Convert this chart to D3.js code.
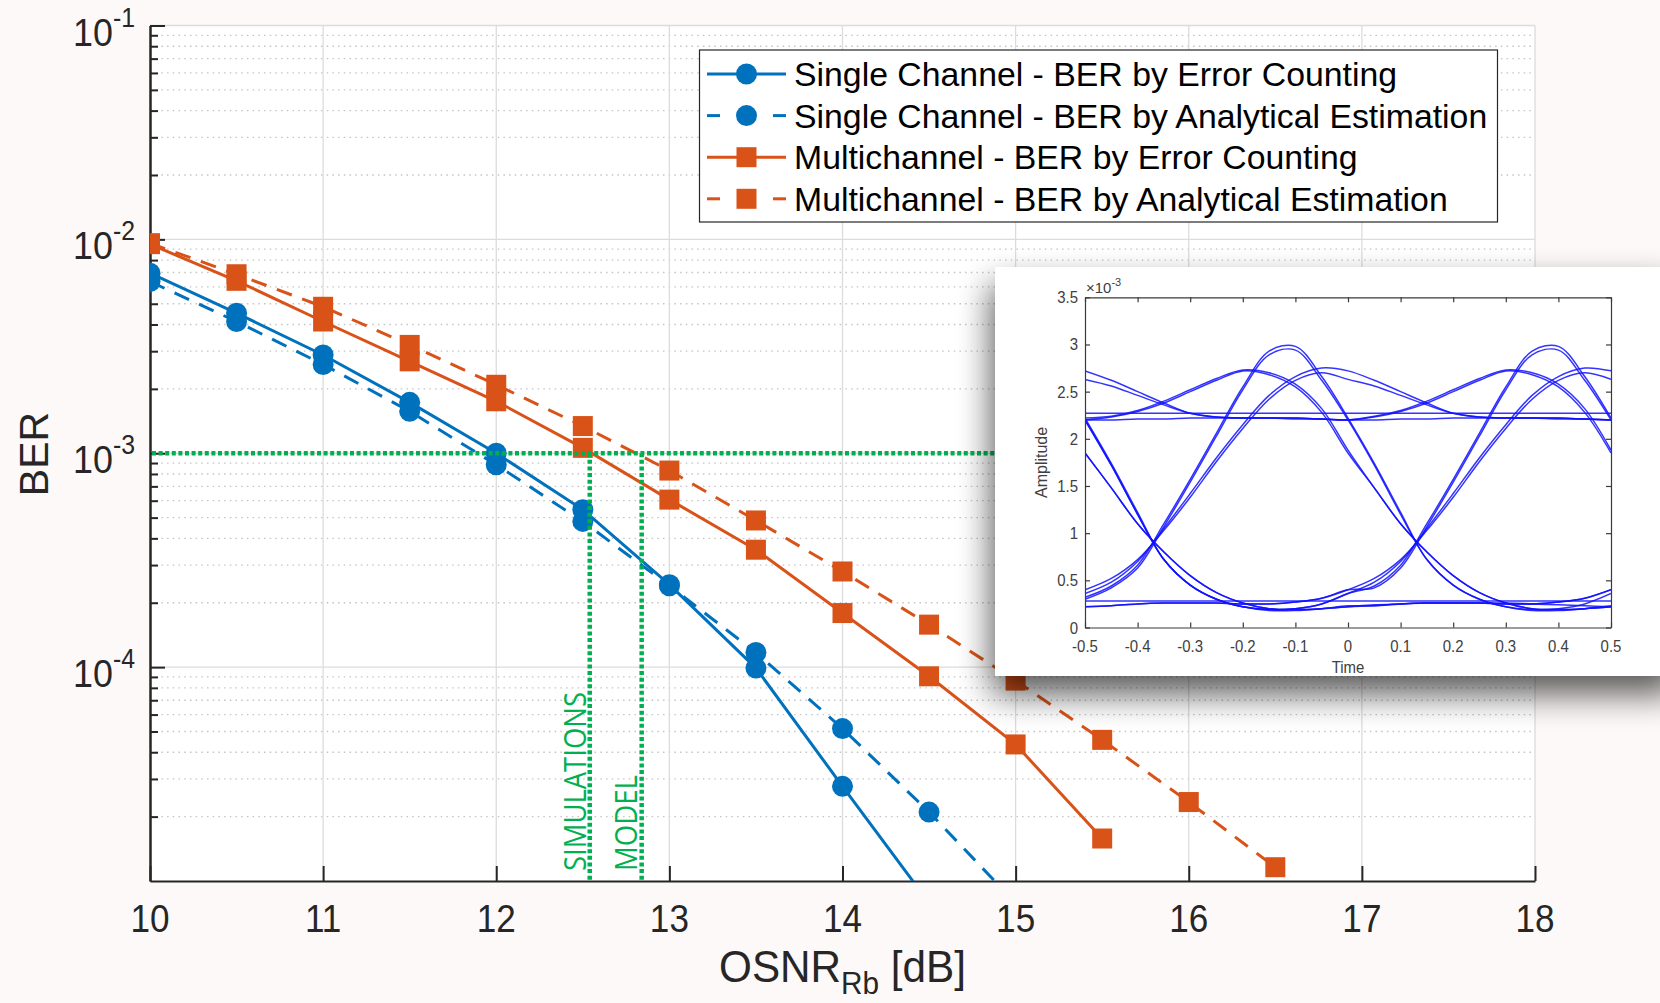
<!DOCTYPE html>
<html>
<head>
<meta charset="utf-8">
<script src="https://cdn.jsdelivr.net/npm/d3@7"></script>
<style>
body{margin:0;background:#fdf9f8;}
svg{display:block;}
text{font-family:"Liberation Sans",Arial,Helvetica,sans-serif;fill:#262626;}
</style>
</head>
<body>
<script>
// ---- main chart data ----
var osnr=[10,10.5,11,11.5,12,12.5,13,13.5,14,14.5,15,15.5,16,16.5];
var berSingleCount=[6.95e-3,4.52e-3,2.88e-3,1.73e-3,1.0e-3,5.45e-4,2.43e-4,9.9e-5,2.77e-5,7.9e-6];
var berSingleAnalytic=[6.35e-3,4.13e-3,2.60e-3,1.57e-3,8.83e-4,4.80e-4,2.40e-4,1.17e-4,5.16e-5,2.10e-5,7.9e-6];
var berMultiCount=[9.5e-3,6.4e-3,4.13e-3,2.69e-3,1.75e-3,1.06e-3,6.07e-4,3.54e-4,1.79e-4,9.06e-5,4.35e-5,1.58e-5];
var berMultiAnalytic=[9.6e-3,6.87e-3,4.84e-3,3.21e-3,2.09e-3,1.34e-3,8.3e-4,4.85e-4,2.80e-4,1.58e-4,8.65e-5,4.57e-5,2.34e-5,1.16e-5];
var legendNames=["Single Channel - BER by Error Counting","Single Channel - BER by Analytical Estimation","Multichannel - BER by Error Counting","Multichannel - BER by Analytical Estimation"];
var xTicks=[10,11,12,13,14,15,16,17,18];
var yDecades=[1e-4,1e-3,1e-2,1e-1];
var minorBase=[1e-5,1e-4,1e-3,1e-2];
var minorMult=[2,3,4,5,6,7,8,9];
var targetBER=1e-3;
var simOSNR=12.54, modelOSNR=12.84;

// ---- inset eye diagram data: half-window traces (t step 0.05) ----
var eyeTime=[-0.5,-0.45,-0.4,-0.35,-0.3,-0.25,-0.2,-0.15,-0.1,-0.05,0,0.05,0.1,0.15,0.2,0.25,0.3,0.35,0.4,0.45,0.5];
var segPeak=[0.32,0.44,0.66,1.1,1.57,2.06,2.55,2.93,2.98,2.66,2.22];
var segPeak2=[0.30,0.42,0.63,1.07,1.54,2.03,2.52,2.89,2.94,2.62,2.2];
var segRise=[0.36,0.48,0.7,1.05,1.42,1.8,2.15,2.46,2.66,2.75,2.72];
var segRise2=[0.40,0.52,0.72,1.03,1.38,1.76,2.11,2.42,2.62,2.70,2.63];
var segFall=[2.22,1.74,1.22,0.72,0.45,0.3,0.22,0.18,0.18,0.2,0.23];
var segFallUp=[2.2,1.72,1.2,0.72,0.45,0.3,0.22,0.19,0.2,0.25,0.36];
var segHumpFall=[1.85,1.48,1.1,0.8,0.55,0.37,0.26,0.2,0.19,0.2,0.22];
var segHump=[2.2,2.23,2.29,2.38,2.5,2.62,2.72,2.68,2.55,2.28,1.85];
var segHump2=[2.22,2.24,2.3,2.4,2.52,2.64,2.73,2.7,2.58,2.32,1.88];
var segTail=[2.72,2.62,2.5,2.38,2.27,2.23,2.22,2.22,2.22,2.21,2.2];
var segTail2=[2.63,2.56,2.46,2.36,2.27,2.23,2.22,2.22,2.22,2.21,2.2];
var segHigh=[2.27,2.27,2.27,2.27,2.27,2.27,2.27,2.27,2.27,2.27,2.27];
var segHigh2=[2.2,2.2,2.21,2.21,2.22,2.22,2.22,2.22,2.21,2.21,2.2];
var segLow=[0.28,0.28,0.28,0.28,0.28,0.28,0.28,0.28,0.28,0.28,0.28];
var segLow2=[0.23,0.24,0.25,0.26,0.26,0.26,0.26,0.25,0.24,0.23,0.22];
var segLowUp=[0.22,0.23,0.25,0.26,0.26,0.26,0.25,0.25,0.27,0.31,0.40];
var eyeTraces=[[segPeak,segFall],[segPeak2,segFallUp],[segRise,segTail],[segRise2,segTail2],
  [segTail,segHump],[segTail2,segHump2],[segHump,segHumpFall],[segHump2,segHumpFall],
  [segFall,segLowUp],[segFallUp,segPeak],[segFallUp,segRise],[segHumpFall,segLow2],
  [segHigh,segHigh],[segHigh2,segHigh2],[segLow,segLow],[segLowUp,segRise2],[segHumpFall,segLowUp],
  [segLowUp,segPeak2]];
var insetTimeTicks=[-0.5,-0.4,-0.3,-0.2,-0.1,0,0.1,0.2,0.3,0.4,0.5];
var insetAmpTicks=[0,0.5,1,1.5,2,2.5,3,3.5];

//////////////////////////////////////////////////////////
var W=1660,H=1003;
var plot={left:150,right:1535,top:25.5,bottom:881};
var blue="#0072bd",orange="#d95319",green="#00b050";

var svg=d3.select("body").append("svg").attr("width",W).attr("height",H);
var defs=svg.append("defs");
defs.append("clipPath").attr("id","plotClip").append("rect")
    .attr("x",plot.left).attr("y",plot.top)
    .attr("width",plot.right-plot.left).attr("height",plot.bottom-plot.top);
svg.append("rect").attr("width",W).attr("height",H).attr("fill","#fdf9f8");
svg.append("rect").attr("x",plot.left).attr("y",plot.top)
   .attr("width",plot.right-plot.left).attr("height",plot.bottom-plot.top).attr("fill","#fff");

var x=d3.scaleLinear().domain([10,18]).range([plot.left,plot.right]);
var y=d3.scaleLog().domain([1e-5,1e-1]).range([plot.bottom,plot.top]);

// grid
var minorVals=[];
minorBase.forEach(function(b){minorMult.forEach(function(k){minorVals.push(k*b);});});
svg.append("g").selectAll("line").data(minorVals).enter().append("line")
   .attr("x1",plot.left).attr("x2",plot.right)
   .attr("y1",function(d){return y(d);}).attr("y2",function(d){return y(d);})
   .attr("stroke","#c4c4c4").attr("stroke-width",1.3).attr("stroke-dasharray","1.5,4.2");
svg.append("g").selectAll("line").data(yDecades).enter().append("line")
   .attr("x1",plot.left).attr("x2",plot.right)
   .attr("y1",function(d){return y(d);}).attr("y2",function(d){return y(d);})
   .attr("stroke","#dcdcdc").attr("stroke-width",1.3);
svg.append("g").selectAll("line").data(xTicks.slice(1)).enter().append("line")
   .attr("y1",plot.top).attr("y2",plot.bottom)
   .attr("x1",function(d){return x(d);}).attr("x2",function(d){return x(d);})
   .attr("stroke","#dcdcdc").attr("stroke-width",1.3);

// axes
var xAxis=svg.append("g").attr("transform","translate(0,"+plot.bottom+")")
   .call(d3.axisBottom(x).tickValues(xTicks).tickSize(-15).tickSizeOuter(0).tickFormat(""));
var yMinorAxis=svg.append("g").attr("transform","translate("+plot.left+",0)")
   .call(d3.axisLeft(y).tickValues(minorVals).tickSize(-8).tickSizeOuter(0).tickFormat(""));
var yAxis=svg.append("g").attr("transform","translate("+plot.left+",0)")
   .call(d3.axisLeft(y).tickValues(yDecades).tickSize(-15).tickSizeOuter(0).tickFormat(""));
[xAxis,yMinorAxis,yAxis].forEach(function(a){
  a.selectAll("path,line").attr("stroke","#262626").attr("stroke-width",2);
});

svg.append("g").selectAll("text").data(xTicks).enter().append("text")
   .attr("transform",function(d){return "translate("+x(d)+",932) scale(0.9,1)";})
   .attr("text-anchor","middle").attr("font-size",39).text(function(d){return d;});
var yl=svg.append("g").selectAll("text").data(yDecades).enter().append("text")
   .attr("transform",function(d){return "translate(135,"+(y(d)+20)+") scale(0.92,1)";})
   .attr("text-anchor","end").attr("font-size",39);
yl.append("tspan").text("10");
yl.append("tspan").attr("dy",-19).attr("font-size",27)
  .text(function(d){return "-"+Math.abs(Math.round(Math.log10(d)));});

// axis titles
var xt=svg.append("text")
   .attr("transform","translate("+((plot.left+plot.right)/2)+",982) scale(0.96,1)")
   .attr("text-anchor","middle").attr("font-size",44);
xt.append("tspan").text("OSNR");
xt.append("tspan").attr("dy",12).attr("font-size",31).text("Rb");
xt.append("tspan").attr("dy",-12).text(" [dB]");
svg.append("text").attr("transform","translate(48,454) rotate(-90)")
   .attr("text-anchor","middle").attr("font-size",41).text("BER");

// series
var series=[
  {values:berSingleCount,color:blue,dash:null,marker:"circle"},
  {values:berSingleAnalytic,color:blue,dash:"16,11",marker:"circle"},
  {values:berMultiCount,color:orange,dash:null,marker:"square"},
  {values:berMultiAnalytic,color:orange,dash:"16,11",marker:"square"}
];
var line=d3.line().x(function(d){return x(d[0]);}).y(function(d){return y(d[1]);});
var plotG=svg.append("g").attr("clip-path","url(#plotClip)");
series.forEach(function(s){
  var pts=d3.zip(osnr.slice(0,s.values.length),s.values);
  plotG.append("path").datum(pts).attr("d",line).attr("fill","none")
     .attr("stroke",s.color).attr("stroke-width",3)
     .attr("stroke-dasharray",s.dash);
  if(s.marker=="circle"){
    plotG.append("g").selectAll("circle").data(pts).enter().append("circle")
       .attr("cx",function(d){return x(d[0]);}).attr("cy",function(d){return y(d[1]);})
       .attr("r",10.5).attr("fill",s.color);
  } else {
    plotG.append("g").selectAll("rect").data(pts).enter().append("rect")
       .attr("x",function(d){return x(d[0])-10;}).attr("y",function(d){return y(d[1])-10;})
       .attr("width",20).attr("height",20).attr("fill",s.color);
  }
});

// green threshold markers
svg.append("line").attr("x1",plot.left+2).attr("x2",1000)
   .attr("y1",y(targetBER)).attr("y2",y(targetBER))
   .attr("stroke",green).attr("stroke-width",4.5).attr("stroke-dasharray","4,2.6");
[simOSNR,modelOSNR].forEach(function(v){
  svg.append("line").attr("x1",x(v)).attr("x2",x(v))
     .attr("y1",y(targetBER)).attr("y2",plot.bottom)
     .attr("stroke",green).attr("stroke-width",4.5).attr("stroke-dasharray","4,2.6");
});
svg.append("text").attr("transform","translate("+(x(simOSNR)-4)+",871) rotate(-90)")
   .style("font-family","'Open Sans',sans-serif").style("fill",green)
   .attr("font-size",31).attr("textLength",179).attr("lengthAdjust","spacingAndGlyphs")
   .text("SIMULATIONS");
svg.append("text").attr("transform","translate("+(x(modelOSNR)-5)+",871) rotate(-90)")
   .style("font-family","'Open Sans',sans-serif").style("fill",green)
   .attr("font-size",31).attr("textLength",96).attr("lengthAdjust","spacingAndGlyphs")
   .text("MODEL");

// legend
var lg=svg.append("g");
lg.append("rect").attr("x",699.5).attr("y",50).attr("width",798).attr("height",172)
  .attr("fill","#fff").attr("stroke","#262626").attr("stroke-width",1.2);
series.forEach(function(s,i){
  var cy=74+i*41.6;
  if(s.dash){
    lg.append("line").attr("x1",707).attr("x2",720).attr("y1",cy).attr("y2",cy)
      .attr("stroke",s.color).attr("stroke-width",3);
    lg.append("line").attr("x1",773).attr("x2",786).attr("y1",cy).attr("y2",cy)
      .attr("stroke",s.color).attr("stroke-width",3);
  } else {
    lg.append("line").attr("x1",707).attr("x2",786).attr("y1",cy).attr("y2",cy)
      .attr("stroke",s.color).attr("stroke-width",3);
  }
  if(s.marker=="circle"){
    lg.append("circle").attr("cx",746.5).attr("cy",cy).attr("r",10.5).attr("fill",s.color);
  } else {
    lg.append("rect").attr("x",736.5).attr("y",cy-10).attr("width",20).attr("height",20).attr("fill",s.color);
  }
  lg.append("text").attr("x",794).attr("y",cy+12).attr("font-size",33.8)
    .style("fill","#000").text(legendNames[i]);
});

// ---- inset ----
var box={x:995,y:267,w:665,h:409};
var blur=defs.append("filter").attr("id","shadow")
   .attr("x","-20%").attr("y","-20%").attr("width","140%").attr("height","160%");
blur.append("feGaussianBlur").attr("stdDeviation",17);
svg.append("rect").attr("x",box.x-3).attr("y",box.y+18).attr("width",box.w+20).attr("height",box.h)
   .attr("fill","#000").attr("opacity",0.65).attr("filter","url(#shadow)");
svg.append("rect").attr("x",box.x).attr("y",box.y).attr("width",box.w).attr("height",box.h).attr("fill","#fff");

var ia={left:1085,right:1611,top:297.3,bottom:627.5};
var ix=d3.scaleLinear().domain([-0.5,0.5]).range([ia.left,ia.right]);
var iy=d3.scaleLinear().domain([0,3.5]).range([ia.bottom,ia.top]);
defs.append("clipPath").attr("id","insetClip").append("rect")
    .attr("x",ia.left).attr("y",ia.top).attr("width",ia.right-ia.left).attr("height",ia.bottom-ia.top);

var eyeLine=d3.line().x(function(d){return ix(d[0]);}).y(function(d){return iy(d[1]);})
   .curve(d3.curveCatmullRom);
var eyeG=svg.append("g").attr("clip-path","url(#insetClip)");
eyeTraces.forEach(function(tr){
  var vals=tr[0].concat(tr[1].slice(1));
  eyeG.append("path").datum(d3.zip(eyeTime,vals)).attr("d",eyeLine)
     .attr("fill","none").attr("stroke","#1010ff").attr("stroke-width",1.5).attr("opacity",0.85);
});

var iax=[
  svg.append("g").attr("transform","translate(0,"+ia.bottom+")").call(d3.axisBottom(ix).tickValues(insetTimeTicks).tickSize(-5).tickSizeOuter(0).tickFormat("")),
  svg.append("g").attr("transform","translate(0,"+ia.top+")").call(d3.axisTop(ix).tickValues(insetTimeTicks).tickSize(-5).tickSizeOuter(0).tickFormat("")),
  svg.append("g").attr("transform","translate("+ia.left+",0)").call(d3.axisLeft(iy).tickValues(insetAmpTicks).tickSize(-5).tickSizeOuter(0).tickFormat("")),
  svg.append("g").attr("transform","translate("+ia.right+",0)").call(d3.axisRight(iy).tickValues(insetAmpTicks).tickSize(-5).tickSizeOuter(0).tickFormat(""))
];
iax.forEach(function(a){a.selectAll("path,line").attr("stroke","#3a3a3a").attr("stroke-width",1.2);});

svg.append("g").selectAll("text").data(insetTimeTicks).enter().append("text")
   .attr("transform",function(d){return "translate("+ix(d)+",652) scale(0.88,1)";})
   .attr("text-anchor","middle")
   .attr("font-size",17).style("fill","#404040").text(function(d){return String(d);});
svg.append("g").selectAll("text").data(insetAmpTicks).enter().append("text")
   .attr("transform",function(d){return "translate("+(ia.left-7)+","+(iy(d)+6)+") scale(0.88,1)";})
   .attr("text-anchor","end")
   .attr("font-size",17).style("fill","#404040").text(function(d){return String(d);});
svg.append("text").attr("transform","translate("+((ia.left+ia.right)/2)+",673) scale(0.88,1)")
   .attr("text-anchor","middle")
   .attr("font-size",17).style("fill","#404040").text("Time");
svg.append("text").attr("transform","translate(1047,"+((ia.top+ia.bottom)/2)+") rotate(-90)")
   .attr("text-anchor","middle").attr("font-size",16).style("fill","#404040").text("Amplitude");
var sc=svg.append("text").attr("x",ia.left+1).attr("y",293).attr("font-size",15).style("fill","#404040");
sc.append("tspan").text("\u00d710");
sc.append("tspan").attr("dy",-7).attr("font-size",11).text("-3");
</script>
</body>
</html>
